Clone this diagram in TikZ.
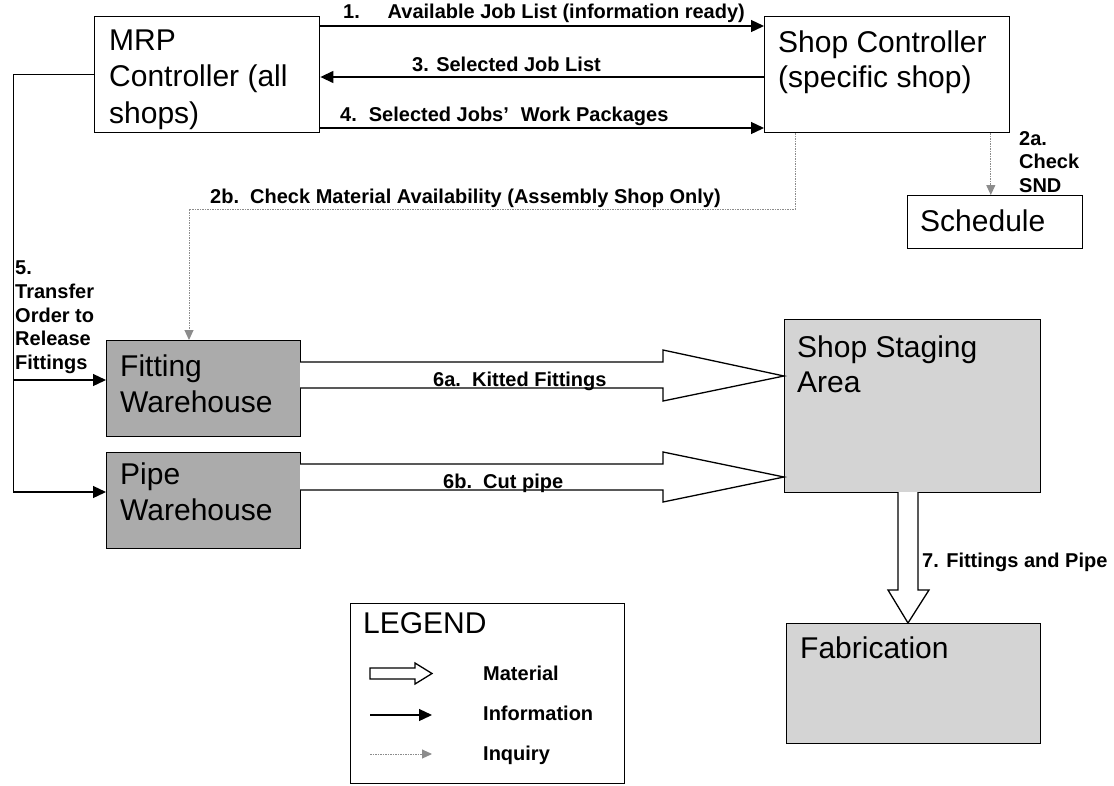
\documentclass[tikz,border=0pt]{standalone}
\usepackage{fontspec}
\setmainfont{Liberation Sans}
\usetikzlibrary{arrows.meta,calc}
\definecolor{darkfill}{gray}{0.67}
\definecolor{lightfill}{gray}{0.83}
\definecolor{inqgray}{gray}{0.55}
\tikzset{
  box/.style={draw=black, line width=1.4pt, anchor=north west, inner sep=0pt},
  btext/.style={anchor=base west, inner sep=0pt, font=\fontsize{30}{36}\selectfont},
  lbl/.style={anchor=base west, inner sep=0pt, font=\fontsize{20}{24}\selectfont\bfseries},
  info/.style={draw=black, line width=1.3pt, -{Triangle[length=13pt,width=12pt]}},
  inq/.style={draw=inqgray, line width=1pt, dash pattern=on 1.5pt off 1pt, -{Triangle[length=10pt,width=9pt,fill=inqgray]}},
  mat/.style={draw=black, line width=1.3pt, fill=white, line join=miter},
}
\begin{document}
\begin{tikzpicture}[x=1pt,y=-1pt]
\fill[white] (0,0) rectangle (1114,785);
\useasboundingbox (0,0) rectangle (1114,785);

% boxes
\node[box, minimum width=225pt, minimum height=116pt] (mrp) at (94,16) {};
\node[box, minimum width=245pt, minimum height=116pt] (sc) at (764,16) {};
\node[box, minimum width=175pt, minimum height=53pt] (sched) at (907,195) {};
\node[box, fill=darkfill, minimum width=194pt, minimum height=96pt] (fw) at (106,340) {};
\node[box, fill=darkfill, minimum width=194pt, minimum height=96pt] (pw) at (106,452) {};
\node[box, fill=lightfill, minimum width=256pt, minimum height=173pt] (ssa) at (784,319) {};
\node[box, fill=lightfill, minimum width=254pt, minimum height=120pt] (fab) at (786,623) {};
\node[box, minimum width=274pt, minimum height=180pt] (leg) at (350,603) {};

% box texts
\node[btext] (mrp1) at (109,50) {MRP};
\node[btext] (mrp2) at (109,86.5) {Controller (all};
\node[btext] (mrp3) at (109,123) {shops)};
\node[btext] (sc1) at (778,52) {Shop Controller};
\node[btext] (sc2) at (778,87) {(specific shop)};
\node[btext] (sch1) at (920,231) {Schedule};
\node[btext] (fw1) at (120,376) {Fitting};
\node[btext] (fw2) at (120,412) {Warehouse};
\node[btext] (pw1) at (120,484) {Pipe};
\node[btext] (pw2) at (120,520) {Warehouse};
\node[btext] (ssa1) at (797,357) {Shop Staging};
\node[btext] (ssa2) at (797,392) {Area};
\node[btext] (fab1) at (800,658) {Fabrication};
\node[btext] (leg1) at (363,633) {LEGEND};

% information connectors
\draw[info] ($(mrp.north east)+(0,10)$) -- ($(sc.north west)+(0,10)$);
\draw[info] ($(sc.north west)+(0,61)$) -- ($(mrp.north east)+(0,61)$);
\draw[info] ($(mrp.north east)+(0,112)$) -- ($(sc.north west)+(0,112)$);
\coordinate (bus) at (13.5,380);
\draw[info] (mrp.west) -| ($(pw.north west)+(-92.5,40)$) -- ($(pw.north west)+(0,40)$);
\draw[info] (bus) -- ($(fw.north west)+(0,40)$);

% inquiry connectors
\draw[inq] ($(sc.south west)+(31,0)$) -- ++(0,76) -| ($(fw.north west)+(83,0)$);
\coordinate (a2) at ($(sc.south east)+(-19.6,0)$);
\draw[inq] (a2) -- (a2 |- sched.north);

% material arrows
\draw[mat] (300,362) -- (663,362) -- (663,350) -- (784,376) -- (663,401) -- (663,388) -- (300,388);
\draw[mat] (300,464) -- (663,464) -- (663,452) -- (784,477) -- (663,502) -- (663,490) -- (300,490);
\draw[mat] (898,492) -- (898,590) -- (888,590) -- (908,623) -- (929,590) -- (918,590) -- (918,492);

% labels
\node[lbl] (l1a) at (343,18) {1.};
\node[lbl] (l1b) at (387.5,18) {Available Job List (information ready)};
\node[lbl] (l3) at (412,71) {3. Selected Job List};
\node[lbl] (l4) at (340,121) {4.\hspace{12pt}Selected Jobs’\hspace{12pt}Work Packages};
\node[lbl] (l2b) at (210,203) {2b.\ \ Check Material Availability (Assembly Shop Only)};
\node[lbl] (l2a1) at (1019,145) {2a.};
\node[lbl] (l2a2) at (1019,168) {Check};
\node[lbl] (l2a3) at (1019,192) {SND};
\node[lbl] (l51) at (15,274) {5.};
\node[lbl] (l52) at (15,298) {Transfer};
\node[lbl] (l53) at (15,322) {Order to};
\node[lbl] (l54) at (15,345) {Release};
\node[lbl] (l55) at (15,369) {Fittings};
\node[lbl] (l6a) at (433,386) {6a.\ \ Kitted Fittings};
\node[lbl] (l6b) at (443,488) {6b.\ \ Cut pipe};
\node[lbl] (l7) at (922,567) {7. Fittings and Pipe};

% legend samples
\draw[mat] (370,668) -- (415,668) -- (415,663) -- (432,673.5) -- (415,684) -- (415,679) -- (370,679) -- cycle;
\coordinate (li0) at (370,715); \coordinate (li1) at (432,715);
\draw[info] (li0) -- (li1);
\coordinate (lq0) at (370,754); \coordinate (lq1) at (432,754);
\draw[inq] (lq0) -- (lq1);
\node[lbl] (lm) at (483,680) {Material};
\node[lbl] (lin) at (483,720) {Information};
\node[lbl] (liq) at (483,760) {Inquiry};
\end{tikzpicture}
\end{document}
